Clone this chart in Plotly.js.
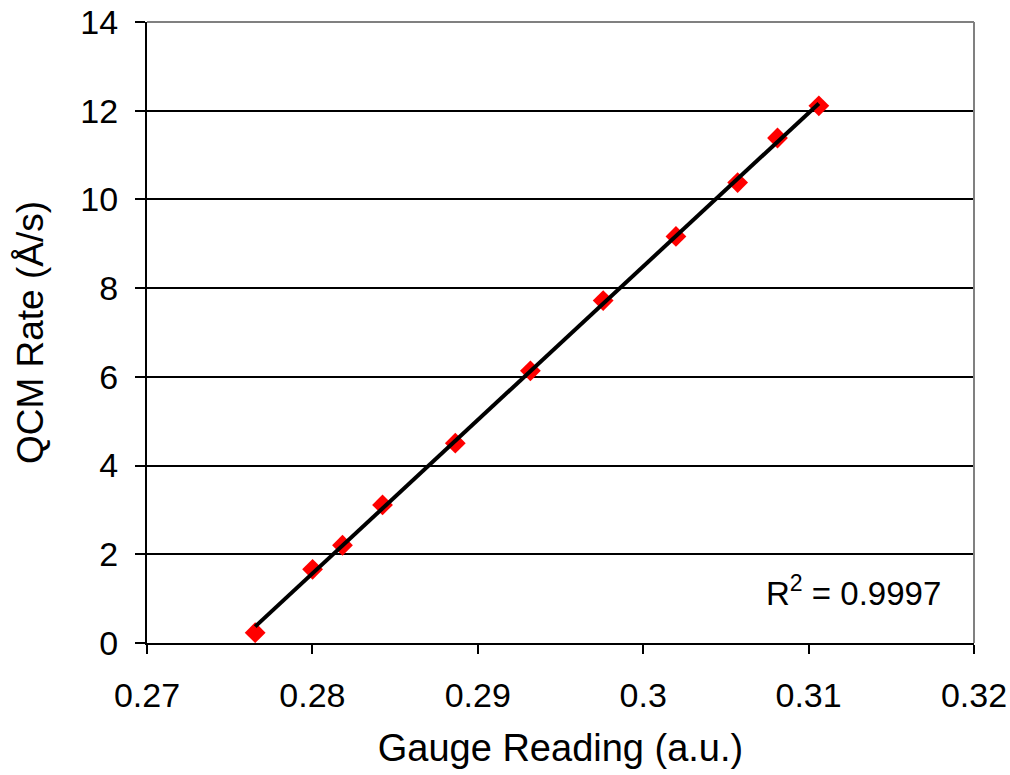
<!DOCTYPE html>
<html>
<head>
<meta charset="utf-8">
<script src="https://cdn.plot.ly/plotly-3.0.1.min.js"></script>
<style>html,body{margin:0;padding:0;background:#fff;}#chart{width:1010px;height:775px;}</style>
</head>
<body>
<div id="chart"></div>
<script>
// Data
const gaugeReading = [0.27654, 0.28001, 0.28182, 0.28424, 0.28864, 0.29318, 0.29758, 0.30198, 0.30571, 0.30812, 0.31062];
const qcmRate      = [0.232,   1.662,   2.204,   3.113,   4.505,   6.136,   7.72,    9.165,   10.38,   11.385,  12.11];
const xTickVals = [0.27, 0.28, 0.29, 0.30, 0.31, 0.32];
const xTickText = ['0.27', '0.28', '0.29', '0.3', '0.31', '0.32'];
const yTickVals = [0, 2, 4, 6, 8, 10, 12, 14];
const rSquaredText = 'R<sup>2</sup> = 0.9997';

// Linear least-squares trendline from the data
const n = gaugeReading.length;
const mx = gaugeReading.reduce((a, b) => a + b, 0) / n;
const my = qcmRate.reduce((a, b) => a + b, 0) / n;
let sxy = 0, sxx = 0;
for (let i = 0; i < n; i++) { sxy += (gaugeReading[i] - mx) * (qcmRate[i] - my); sxx += (gaugeReading[i] - mx) ** 2; }
const slope = sxy / sxx, intercept = my - slope * mx;
const fitX = [gaugeReading[0], gaugeReading[n - 1]];
const fitY = fitX.map(x => slope * x + intercept);

const font = 'Liberation Sans, Arial, sans-serif';

const traces = [
  {
    x: gaugeReading, y: qcmRate, type: 'scatter', mode: 'markers',
    marker: {symbol: 'diamond', size: 16, color: '#FF0000'},
    hoverinfo: 'x+y', showlegend: false
  },
  {
    x: fitX, y: fitY, type: 'scatter', mode: 'lines',
    line: {color: '#000000', width: 4},
    hoverinfo: 'skip', showlegend: false
  }
];

const layout = {
  width: 1010, height: 775,
  margin: {l: 147, r: 36, t: 22, b: 132},
  paper_bgcolor: '#ffffff', plot_bgcolor: '#ffffff',
  font: {family: font, color: '#000000', size: 34},
  xaxis: {
    range: [0.27, 0.32], tickvals: xTickVals, ticktext: xTickText,
    showgrid: false, zeroline: false,
    showline: true, linecolor: '#000000', linewidth: 2,
    ticks: 'outside', ticklen: 9, tickwidth: 2, tickcolor: '#000000',
    ticklabelstandoff: 12,
    tickfont: {family: font, size: 34, color: '#000000'},
    title: {text: 'Gauge Reading (a.u.)', font: {family: font, size: 38, color: '#000000'}, standoff: 22}
  },
  yaxis: {
    range: [0, 14], tickvals: yTickVals,
    showgrid: true, gridcolor: '#000000', gridwidth: 2,
    zeroline: false,
    showline: true, linecolor: '#000000', linewidth: 2,
    ticks: 'outside', ticklen: 10, tickwidth: 2, tickcolor: '#000000',
    ticklabelstandoff: 10,
    tickfont: {family: font, size: 34, color: '#000000'},
    title: {text: 'QCM Rate (Å/s)', font: {family: font, size: 37, color: '#000000'}, standoff: 25}
  },
  shapes: [
    {type: 'line', xref: 'paper', yref: 'paper', x0: 0, x1: 1, y0: 1, y1: 1, line: {color: '#808080', width: 2}},
    {type: 'line', xref: 'paper', yref: 'paper', x0: 1, x1: 1, y0: 0, y1: 1, line: {color: '#808080', width: 2}}
  ],
  annotations: [
    {xref: 'paper', yref: 'paper', x: 0.962, y: 0.083, xanchor: 'right', yanchor: 'middle',
     text: rSquaredText, showarrow: false, font: {family: font, size: 33, color: '#000000'}}
  ]
};

Plotly.newPlot('chart', traces, layout, {displayModeBar: false, staticPlot: true});
</script>
</body>
</html>
